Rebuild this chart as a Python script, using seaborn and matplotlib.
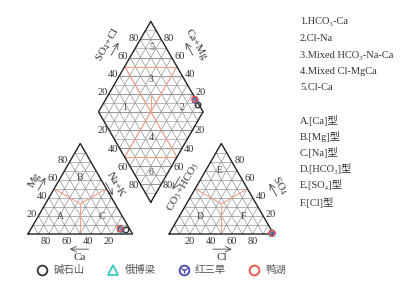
import numpy as np
import pandas as pd
import matplotlib
matplotlib.use("Agg")
import matplotlib.pyplot as plt
import seaborn as sns
from matplotlib.lines import Line2D
from matplotlib.legend_handler import HandlerTuple

# sample composition (fractions)
sites = ["碱石山", "俄博梁", "红三旱", "鸭湖"]
ca = [0.04, 0.09, 0.085, 0.09]
mg = [0.045, 0.055, 0.055, 0.06]
nak = [0.915, 0.855, 0.86, 0.85]
hco3 = [0.01, 0.01, 0.01, 0.01]
so4 = [0.01, 0.01, 0.01, 0.01]
cl = [0.98, 0.98, 0.98, 0.98]

site_colors = ["#333333", "#3cc8c0", "#4646b4", "#f05040"]
site_markers = ["o", "^", "o", "o"]

facies = ["1.HCO₃-Ca", "2.Cl-Na", "3.Mixed HCO₃-Na-Ca", "4.Mixed Cl-MgCa", "5.Cl-Ca"]
types = ["A.[Ca]型", "B.[Mg]型", "C.[Na]型", "D.[HCO₃]型", "E.[SO₄]型", "F.[Cl]型"]
ticks = [20, 40, 60, 80]

sns.set_style("white")
plt.rcParams["font.family"] = ["Liberation Serif", "DejaVu Serif", "Noto Sans CJK SC"]
plt.rcParams["mathtext.fontset"] = "stix"

h = np.sqrt(3) / 2
g = 0.35
ox = 1 + g            # right triangle offset
B = np.array([1 + g / 2, g * h])
u = np.array([-0.5, h])
v = np.array([0.5, h])
L, R, T = B + u, B + v, B + u + v
C = B + 0.5 * u + 0.5 * v

fig = plt.figure(figsize=(4.2, 2.83), dpi=100)
ax = fig.add_axes([0, 0, 1, 1])

gc, glw = "#8a8a8a", 0.45
oc, olw = "#f4a088", 0.8


def seg(p, q, **kw):
    ax.plot([p[0], q[0]], [p[1], q[1]], **kw)


# triangles
for x0 in [0, ox]:
    for i in range(1, 10):
        t = i / 10
        seg((x0 + t / 2, t * h), (x0 + 1 - t / 2, t * h), color=gc, lw=glw)
        seg((x0 + t, 0), (x0 + t + (1 - t) / 2, (1 - t) * h), color=gc, lw=glw)
        seg((x0 + t, 0), (x0 + t / 2, t * h), color=gc, lw=glw)
    cen = (x0 + 0.5, h / 3)
    seg(cen, (x0 + 0.5, 0), color=oc, lw=olw)
    seg(cen, (x0 + 0.25, h / 2), color=oc, lw=olw)
    seg(cen, (x0 + 0.75, h / 2), color=oc, lw=olw)
    ax.plot([x0, x0 + 1, x0 + 0.5, x0], [0, 0, h, 0], color="#222222", lw=1.0)

# diamond
for i in range(1, 10):
    t = i / 10
    seg(B + t * u, B + t * u + v, color=gc, lw=glw)
    seg(B + t * v, B + t * v + u, color=gc, lw=glw)
for k in range(1, 20):
    s = k * 0.1 * h
    w = s / np.sqrt(3) if s <= h else (2 * h - s) / np.sqrt(3)
    seg((B[0] - w, B[1] + s), (B[0] + w, B[1] + s), color="#9a9a9a", lw=0.8 if k % 2 == 0 else glw)
for p, q in [(C, B + u + 0.5 * v), (C, B + 0.5 * u + v), (B + u + 0.5 * v, B + 0.5 * u + v),
             (C, B + 0.5 * v), (C, B + 0.5 * u), (B + 0.5 * v, B + 0.5 * u),
             (C, C + np.array([0, 0.17]))]:
    seg(p, q, color=oc, lw=olw)
ax.plot([B[0], R[0], T[0], L[0], B[0]], [B[1], R[1], T[1], L[1], B[1]], color="#222222", lw=1.0)

# tick labels
tk = dict(fontsize=7.5, color="#333333", ha="center", va="center")
for val in ticks:
    f = val / 100
    ax.text(1 - f - 0.03, -0.075, str(val), **tk)                    # Ca
    ax.text(ox + f, -0.075, str(val), **tk)                           # Cl
    ax.text(f / 2 - 0.065, f * h + 0.01, str(val), **tk)              # Mg
    ax.text(ox + 1 - f / 2 + 0.075, f * h + 0.01, str(val), **tk)     # SO4
    p = L + f * v
    ax.text(p[0] - 0.065, p[1] + 0.01, str(val), **tk)                # SO4+Cl
    p = R + f * u
    ax.text(p[0] + 0.075, p[1] + 0.01, str(val), **tk)                # Ca+Mg
    p = L - f * u
    ax.text(p[0] - 0.065, p[1] - 0.01, str(val), **tk)                # Na+K
    p = R - f * v
    ax.text(p[0] + 0.065, p[1] - 0.01, str(val), **tk)                # CO3+HCO3

# axis titles with arrows
lab = dict(fontsize=8, color="#333333", ha="center", va="center")
axis_titles = [
    ("SO$_4$+Cl", (0.766, 1.809), 60, (0.5, h), (0.866, -0.5)),
    ("Ca+Mg", (1.608, 1.809), -60, (-0.5, h), (-0.866, -0.5)),
    ("Mg", (0.067, 0.517), 60, (0.5, h), (0.866, -0.5)),
    ("Na+K", (0.842, 0.469), -60, (0.5, -h), (-0.866, -0.5)),
    ("CO$_3$+HCO$_3$", (1.483, 0.45), 60, (-0.5, -h), (-0.866, 0.5)),
    ("SO$_4$", (2.41, 0.46), -60, (-0.5, h), (-0.866, -0.5)),
]
for txt, pos, rot, d, nrm in axis_titles:
    ax.text(pos[0], pos[1], txt, rotation=rot, rotation_mode="anchor", **lab)
    d, nrm = np.array(d), np.array(nrm)
    c0 = np.array(pos) + 0.075 * nrm
    ax.annotate("", xy=c0 + 0.07 * d, xytext=c0 - 0.07 * d,
                arrowprops=dict(arrowstyle="->", color="#444444", lw=0.6, shrinkA=0, shrinkB=0))
ax.text(0.498, -0.225, "Ca", **lab)
ax.text(ox + 0.506, -0.225, "Cl", **lab)
ax.annotate("", xy=(0.40, -0.145), xytext=(0.58, -0.145),
            arrowprops=dict(arrowstyle="->", color="#444444", lw=0.6, shrinkA=0, shrinkB=0))
ax.annotate("", xy=(ox + 0.6, -0.145), xytext=(ox + 0.42, -0.145),
            arrowprops=dict(arrowstyle="->", color="#444444", lw=0.6, shrinkA=0, shrinkB=0))

# region labels
rl = dict(fontsize=7, color="#444444", ha="center", va="center")
for t_, (x, y) in zip("ABCDEF", [(0.306, 0.172), (0.498, 0.536), (0.708, 0.172),
                                  (1.646, 0.172), (1.837, 0.603), (2.057, 0.172)]):
    ax.text(x, y, t_, **rl)
for t_, (x, y) in zip("123456", [(0.928, 1.215), (1.474, 1.215), (1.177, 1.474),
                                  (1.177, 0.928), (1.187, 1.78), (1.177, 0.593)]):
    ax.text(x, y, t_, **rl)

# project samples
rows = []
for i, s in enumerate(sites):
    rows.append((s, nak[i] + mg[i] / 2, mg[i] * h))
    rows.append((s, ox + cl[i] + so4[i] / 2, so4[i] * h))
    p = B + (1 - nak[i]) * u + (cl[i] + so4[i]) * v
    rows.append((s, p[0], p[1]))
df = pd.DataFrame(rows, columns=["site", "x", "y"])
for s, col, mk in zip(sites, site_colors, site_markers):
    sub = df[df["site"] == s]
    sns.scatterplot(data=sub, x="x", y="y", ax=ax, marker=mk, s=16, facecolor="none",
                    edgecolor=col, linewidth=1.0, legend=False, zorder=5)
    if s == "红三旱":
        sns.scatterplot(data=sub, x="x", y="y", ax=ax, marker="1", s=8, color=col,
                        linewidth=0.8, legend=False, zorder=5)
ax.set_xlim(-28 / 104.5, (420 - 28) / 104.5)
ax.set_ylim(-49 / 104.5, (283 - 49) / 104.5)
ax.axis("off")

# right-hand legend text
for i, t_ in enumerate(facies):
    fig.text(0.714, 1 - [22, 38, 55, 72, 88][i] / 283, t_, fontsize=7.5, color="#333333", va="center")
for i, t_ in enumerate(types):
    fig.text(0.714, 1 - [120, 136, 152, 168, 185, 202][i] / 283, t_, fontsize=7.5, color="#333333", va="center")

# bottom legend
handles = []
for s, col, mk in zip(sites, site_colors, site_markers):
    base = Line2D([], [], marker=mk, ls="", markerfacecolor="none", markeredgecolor=col,
                  markeredgewidth=1.3, markersize=7)
    if s == "红三旱":
        inner = Line2D([], [], marker="1", ls="", color=col, markeredgewidth=1.0, markersize=5)
        handles.append((base, inner))
    else:
        handles.append(base)
leg = fig.legend(handles=handles, labels=sites, loc="center", bbox_to_anchor=(0.385, 0.045), ncol=4,
                 frameon=False, handletextpad=0.6, columnspacing=2.2, handlelength=1.0,
                 handler_map={tuple: HandlerTuple(ndivide=1, pad=0)},
                 prop={"family": ["Noto Sans CJK SC", "DejaVu Sans"], "size": 7.5})
for t_ in leg.get_texts():
    t_.set_color("#555555")

fig.savefig("out.png", dpi=100)
plt.close(fig)
